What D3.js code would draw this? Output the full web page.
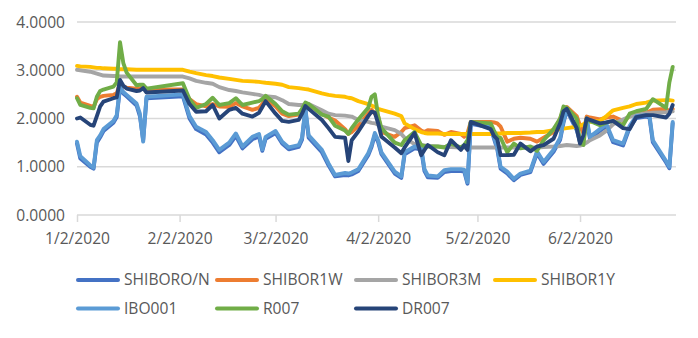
<!DOCTYPE html>
<html>
<head>
<meta charset="utf-8">
<script src="https://cdn.jsdelivr.net/npm/d3@7"></script>
<style>
  html, body { margin: 0; padding: 0; background: #ffffff; }
  svg { display: block; }
  text { font-family: "Open Sans", "Liberation Sans", sans-serif; fill: #595959; }
</style>
</head>
<body>
<svg id="chart" width="698" height="338"></svg>
<script>
// ---------- data ----------
const dates = [
  "2020-01-02","2020-01-03","2020-01-06","2020-01-07","2020-01-08","2020-01-09","2020-01-10","2020-01-13","2020-01-14","2020-01-15","2020-01-16","2020-01-17","2020-01-20","2020-01-21","2020-01-22","2020-01-23",
  "2020-02-03","2020-02-05","2020-02-07","2020-02-10","2020-02-12","2020-02-14","2020-02-17","2020-02-19","2020-02-21","2020-02-24","2020-02-26","2020-02-27","2020-02-28",
  "2020-03-02","2020-03-04","2020-03-06","2020-03-09","2020-03-10","2020-03-11","2020-03-12","2020-03-16","2020-03-18","2020-03-20","2020-03-23","2020-03-24","2020-03-25","2020-03-27","2020-03-30","2020-03-31",
  "2020-04-01","2020-04-02","2020-04-03","2020-04-07","2020-04-09","2020-04-10","2020-04-13","2020-04-15","2020-04-16","2020-04-17","2020-04-20","2020-04-22","2020-04-24","2020-04-27","2020-04-28","2020-04-29","2020-04-30",
  "2020-05-06","2020-05-07","2020-05-08","2020-05-09","2020-05-11","2020-05-13","2020-05-15","2020-05-18","2020-05-20","2020-05-22","2020-05-25","2020-05-27","2020-05-28","2020-05-29",
  "2020-06-01","2020-06-02","2020-06-03","2020-06-04","2020-06-05","2020-06-08","2020-06-10","2020-06-12","2020-06-15","2020-06-17","2020-06-19","2020-06-22","2020-06-23","2020-06-24","2020-06-28","2020-06-29","2020-06-30"
];

const shiborON = [
  1.48,1.17,1.00,0.96,1.50,1.61,1.74,1.91,2.03,2.63,2.52,2.46,2.27,2.05,1.55,2.42,
  2.46,2.00,1.78,1.67,1.50,1.30,1.45,1.64,1.38,1.57,1.63,1.33,1.58,
  1.70,1.48,1.36,1.41,1.56,2.18,1.60,1.30,1.03,0.80,0.83,0.82,0.84,0.91,1.24,1.41,
  1.66,1.51,1.26,0.86,0.77,1.26,1.38,1.36,0.91,0.78,0.77,0.89,0.91,0.91,0.90,0.65,1.89,
  1.81,1.58,1.36,0.96,0.86,0.72,0.83,0.89,1.28,1.06,1.31,1.56,1.91,2.17,
  1.76,1.51,1.56,1.96,1.58,1.74,1.84,1.51,1.44,1.81,2.01,2.04,2.01,1.51,1.09,0.97,1.90
];
const shibor1W = [
  2.45,2.33,2.26,2.24,2.40,2.45,2.47,2.49,2.52,2.73,2.66,2.64,2.62,2.62,2.66,2.60,
  2.60,2.40,2.30,2.25,2.30,2.25,2.24,2.32,2.25,2.18,2.22,2.30,2.40,
  2.25,2.10,2.05,2.08,2.18,2.25,2.28,2.10,2.02,1.96,1.78,1.68,1.72,1.85,2.10,2.18,
  2.10,2.05,1.72,1.62,1.72,1.80,1.86,1.75,1.72,1.76,1.74,1.66,1.72,1.68,1.62,1.70,1.93,
  1.93,1.92,1.90,1.83,1.52,1.58,1.60,1.58,1.52,1.60,1.72,2.00,2.18,2.24,
  2.05,1.85,1.70,2.04,2.02,1.98,2.02,2.04,1.95,2.05,2.10,2.12,2.15,2.18,2.20,2.15,2.20
];
const shibor3M = [
  3.01,3.00,2.97,2.95,2.93,2.91,2.89,2.88,2.88,2.87,2.87,2.87,2.87,2.87,2.87,2.87,
  2.87,2.83,2.78,2.74,2.72,2.65,2.59,2.57,2.54,2.51,2.49,2.47,2.46,
  2.44,2.38,2.30,2.28,2.28,2.29,2.30,2.17,2.10,2.07,2.06,2.05,2.04,1.97,1.93,1.91,
  1.90,1.87,1.83,1.76,1.68,1.60,1.47,1.45,1.44,1.43,1.42,1.41,1.41,1.40,1.40,1.40,1.40,
  1.40,1.40,1.40,1.40,1.40,1.40,1.40,1.40,1.40,1.41,1.42,1.43,1.44,1.45,
  1.43,1.44,1.46,1.50,1.55,1.65,1.75,1.88,1.98,2.04,2.08,2.11,2.11,2.12,2.13,2.14,2.15
];
const shibor1Y = [
  3.09,3.08,3.07,3.06,3.05,3.05,3.04,3.03,3.03,3.02,3.02,3.02,3.01,3.01,3.01,3.01,
  3.01,2.97,2.94,2.90,2.88,2.85,2.82,2.80,2.78,2.77,2.76,2.75,2.74,
  2.72,2.70,2.65,2.63,2.62,2.61,2.60,2.52,2.49,2.47,2.45,2.43,2.42,2.36,2.30,2.27,
  2.24,2.20,2.18,2.10,2.05,1.90,1.78,1.72,1.70,1.69,1.69,1.68,1.68,1.68,1.68,1.68,1.68,
  1.68,1.68,1.69,1.69,1.70,1.70,1.70,1.71,1.72,1.72,1.76,1.78,1.79,1.80,
  1.83,1.85,1.88,1.92,1.93,1.95,2.05,2.17,2.22,2.25,2.30,2.33,2.35,2.37,2.38,2.38,2.37
];
const ibo001 = [
  1.52,1.22,1.03,0.98,1.55,1.65,1.78,1.95,2.07,2.66,2.55,2.49,2.31,2.10,1.52,2.45,
  2.50,2.05,1.83,1.72,1.55,1.35,1.50,1.69,1.42,1.62,1.68,1.36,1.62,
  1.74,1.52,1.40,1.45,1.60,2.22,1.65,1.35,1.07,0.83,0.87,0.86,0.88,0.95,1.28,1.45,
  1.70,1.55,1.30,0.90,0.80,1.30,1.42,1.40,0.95,0.82,0.80,0.93,0.95,0.95,0.94,0.68,1.92,
  1.85,1.62,1.40,1.00,0.90,0.75,0.86,0.92,1.32,1.10,1.35,1.60,1.95,2.20,
  1.80,1.55,1.60,2.00,1.62,1.78,1.88,1.55,1.48,1.85,2.05,2.07,2.05,1.55,1.12,1.00,1.93
];
const r007 = [
  2.42,2.28,2.22,2.21,2.45,2.57,2.60,2.66,2.75,3.58,3.15,2.95,2.69,2.70,2.70,2.62,
  2.73,2.40,2.22,2.30,2.43,2.28,2.32,2.42,2.28,2.33,2.36,2.40,2.47,
  2.30,2.15,2.08,2.10,2.20,2.33,2.30,2.08,2.04,1.85,1.75,1.68,1.80,1.98,2.22,2.45,
  2.50,2.05,1.80,1.50,1.45,1.55,1.72,1.45,1.43,1.42,1.42,1.40,1.48,1.40,1.45,1.55,1.93,
  1.90,1.75,1.62,1.60,1.30,1.48,1.38,1.42,1.33,1.55,1.78,2.00,2.25,2.22,
  2.00,1.50,1.45,2.00,1.95,1.86,1.92,1.95,1.86,2.10,2.15,2.20,2.30,2.40,2.22,2.75,3.07
];
const dr007 = [
  2.00,2.02,1.87,1.85,2.05,2.25,2.35,2.42,2.44,2.80,2.68,2.62,2.57,2.58,2.63,2.54,
  2.58,2.30,2.14,2.15,2.28,2.00,2.18,2.22,2.10,2.04,2.12,2.24,2.36,
  2.10,1.95,1.93,1.97,2.10,2.26,2.20,1.97,1.80,1.62,1.60,1.12,1.55,1.73,2.05,2.14,
  2.12,1.90,1.62,1.40,1.28,1.40,1.70,1.24,1.35,1.45,1.30,1.24,1.55,1.35,1.45,1.35,1.93,
  1.78,1.64,1.57,1.24,1.24,1.25,1.48,1.32,1.42,1.45,1.58,1.90,2.15,2.20,
  1.80,1.48,1.65,2.00,1.97,1.90,1.92,1.95,1.80,1.78,2.03,2.07,2.07,2.07,2.02,2.10,2.28
];

const seriesNames = ["SHIBORO/N","SHIBOR1W","SHIBOR3M","SHIBOR1Y","IBO001","R007","DR007"];
const seriesValues = [shiborON, shibor1W, shibor3M, shibor1Y, ibo001, r007, dr007];
const seriesColors = ["#4472C4","#ED7D31","#A5A5A5","#FFC000","#5B9BD5","#70AD47","#264478"];

const yTicks = [0, 1, 2, 3, 4];
const xTickDates = ["2020-01-02","2020-02-02","2020-03-02","2020-04-02","2020-05-02","2020-06-02"];
const xDomain = ["2020-01-02","2020-07-01"];

// ---------- drawing ----------
const parse = d3.timeParse("%Y-%m-%d");
const svg = d3.select("#chart");
const W = 698, H = 338;
const plot = { left: 77, right: 676, top: 22, bottom: 215 };

svg.append("rect").attr("width", W).attr("height", H).attr("fill", "#ffffff");

const x = d3.scaleTime()
  .domain(xDomain.map(parse))
  .range([plot.left, plot.right]);
const y = d3.scaleLinear()
  .domain([0, 4])
  .range([plot.bottom, plot.top]);

// gridlines
svg.append("g")
  .selectAll("line")
  .data(yTicks)
  .join("line")
  .attr("x1", plot.left).attr("x2", plot.right)
  .attr("y1", d => y(d)).attr("y2", d => y(d))
  .attr("stroke", "#D9D9D9").attr("stroke-width", 1.5);

// y axis labels
const yAxis = d3.axisLeft(y).tickValues(yTicks).tickFormat(d3.format(".4f")).tickSize(0).tickPadding(12);
const gy = svg.append("g").attr("transform", `translate(${plot.left},0)`).call(yAxis);
gy.select(".domain").remove();
gy.selectAll("text").style("font-size", "15.6px").style("font-family", "'Open Sans', sans-serif").attr("fill", "#595959");

// x axis
const xAxis = d3.axisBottom(x)
  .tickValues(xTickDates.map(parse))
  .tickFormat(d3.timeFormat("%-m/%-d/%Y"))
  .tickSize(7).tickPadding(11);
const gx = svg.append("g").attr("transform", `translate(0,${plot.bottom})`).call(xAxis);
gx.select(".domain").remove();
gx.selectAll(".tick line").attr("stroke", "#D9D9D9").attr("stroke-width", 1.5);
gx.selectAll("text").style("font-size", "15.6px").style("font-family", "'Open Sans', sans-serif").attr("fill", "#595959");

// lines
const line = d3.line()
  .x((d, i) => x(parse(dates[i])))
  .y(d => y(d));

svg.append("g")
  .selectAll("path")
  .data(seriesValues)
  .join("path")
  .attr("d", d => line(d))
  .attr("fill", "none")
  .attr("stroke", (d, i) => seriesColors[i])
  .attr("stroke-width", 3.9)
  .attr("stroke-linejoin", "round")
  .attr("stroke-linecap", "round");

// legend
const legCols = [78, 217, 356, 495];
const legRows = [280, 308.5];
const legend = svg.append("g")
  .selectAll("g")
  .data(seriesNames)
  .join("g")
  .attr("transform", (d, i) => `translate(${legCols[i % 4]},${legRows[Math.floor(i / 4)]})`);
legend.append("line")
  .attr("x1", 0).attr("x2", 40).attr("y1", 0).attr("y2", 0)
  .attr("stroke", (d, i) => seriesColors[i])
  .attr("stroke-width", 4).attr("stroke-linecap", "round");
legend.append("text")
  .attr("x", 46).attr("y", 0).attr("dy", "0.35em")
  .style("font-size", "15.6px")
  .text(d => d);
</script>
</body>
</html>
